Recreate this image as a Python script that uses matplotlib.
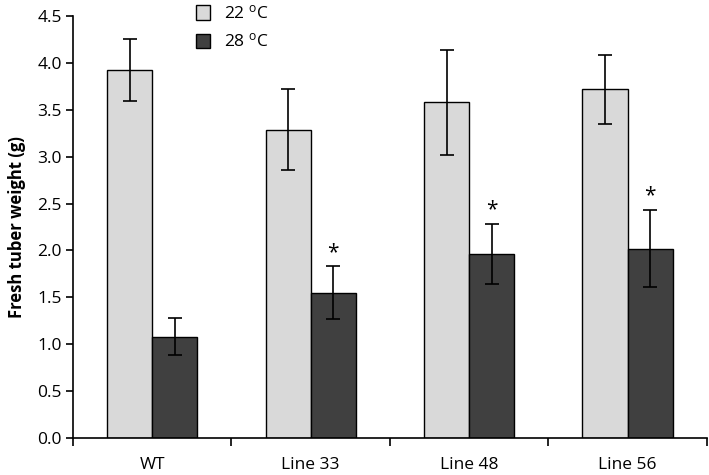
import numpy as np
import matplotlib
matplotlib.use('Agg')
import matplotlib.pyplot as plt
from matplotlib.patches import Patch

plt.rcParams['font.family'] = ['Open Sans', 'DejaVu Sans']

# data
groups = ['WT', 'Line 33', 'Line 48', 'Line 56']
w22 = [3.93, 3.29, 3.58, 3.72]
err22 = [0.33, 0.43, 0.56, 0.37]
w28 = [1.08, 1.55, 1.96, 2.02]
err28 = [0.20, 0.28, 0.32, 0.41]
signif = [False, True, True, True]

fig = plt.figure(figsize=(7.09, 4.75), dpi=100)
ax = fig.add_axes([0.103, 0.078, 0.894, 0.888])

x = np.arange(len(groups))
bw = 0.285
ax.bar(x - bw / 2, w22, bw, color='#d9d9d9', edgecolor='black', linewidth=1.0,
       yerr=err22, error_kw=dict(ecolor='black', elinewidth=1.2, capsize=5, capthick=1.2))
ax.bar(x + bw / 2, w28, bw, color='#404040', edgecolor='black', linewidth=1.0,
       yerr=err28, error_kw=dict(ecolor='black', elinewidth=1.2, capsize=5, capthick=1.2))

for i in range(len(groups)):
    if signif[i]:
        ax.text(x[i] + bw / 2, w28[i] + err28[i] + 0.15, '*', ha='center', va='center',
                fontsize=15)

ax.set_xlim(-0.5, len(groups) - 0.5)
ax.set_ylim(0, 4.5)
ax.set_yticks(np.arange(0, 4.51, 0.5))
ax.set_yticklabels(['%.1f' % v for v in np.arange(0, 4.51, 0.5)])
ax.set_xticks(x)
ax.set_xticklabels(groups)
ax.tick_params(axis='x', length=0, labelsize=12.5, pad=14)
ax.set_xticks(np.arange(-0.5, len(groups)), minor=True)
ax.tick_params(axis='x', which='minor', length=6, width=1.2, direction='out')
ax.tick_params(axis='y', length=5, width=1.2, labelsize=12.5, direction='out', pad=3)
ax.spines['top'].set_visible(False)
ax.spines['right'].set_visible(False)
ax.spines['left'].set_linewidth(1.2)
ax.spines['bottom'].set_linewidth(1.2)
ax.set_ylabel('Fresh tuber weight (g)', fontsize=12, fontweight='bold', labelpad=8)

handles = [Patch(facecolor='#d9d9d9', edgecolor='black'),
           Patch(facecolor='#404040', edgecolor='black')]
ax.legend(handles, ['22 $\\mathregular{^{o}}$C', '28 $\\mathregular{^{o}}$C'], loc='upper left',
          bbox_to_anchor=(0.17, 1.065), frameon=False, fontsize=12.5,
          handlelength=0.8, handleheight=0.9, handletextpad=0.8, labelspacing=0.6)

fig.savefig('out.png', dpi=100)
